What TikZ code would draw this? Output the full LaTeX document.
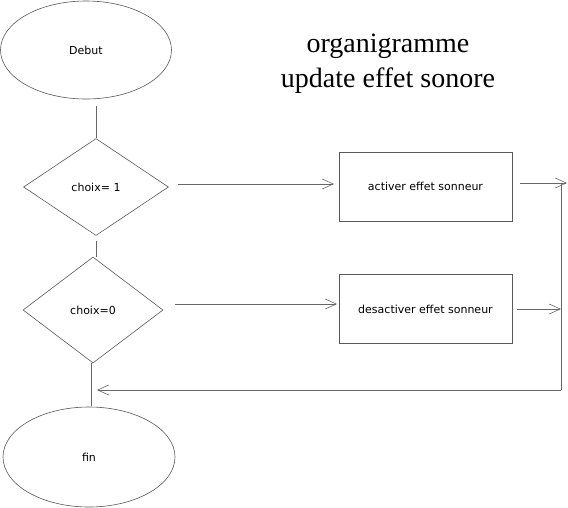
\documentclass[tikz,border=0pt]{standalone}
\usepackage{fontspec}
\setmainfont{DejaVu Sans}
\newfontfamily\titlefont{Liberation Serif}
\usetikzlibrary{shapes.geometric,arrows.meta}
\begin{document}
\begin{tikzpicture}[x=1pt,y=-1pt,
  every node/.style={font=\fontsize{11}{13}\selectfont, text=black},
  term/.style={ellipse,draw=black!65,line width=0.6pt,inner sep=0pt},
  decis/.style={diamond,draw=black!65,line width=0.6pt,inner sep=0pt},
  proc/.style={rectangle,draw=black!65,line width=0.6pt,inner sep=0pt,minimum width=173pt,minimum height=69pt},
  link/.style={draw=black!60,line width=0.6pt},
  arr/.style={link,-{Straight Barb[length=11pt,width=10pt,line width=0.6pt]}}]
\useasboundingbox (0,0) rectangle (568,507);
\fill[white] (0,0) rectangle (568,507);
\node[term,minimum width=171pt,minimum height=98pt] (debut) at (86,50) {Debut};
\node[decis,minimum width=145pt,minimum height=97pt] (d1) at (96,187) {choix= 1};
\node[decis,minimum width=140pt,minimum height=106pt] (d2) at (93,310) {choix=0};
\node[term,minimum width=172pt,minimum height=100pt] (fin) at (89,457) {fin};
\node[proc] (b1) at (425.5,186.5) {activer effet sonneur};
\node[proc] (b2) at (425.5,309) {desactiver effet sonneur};
\node[font=\titlefont\fontsize{28}{35}\selectfont,align=center] (title) at (388,64) {organigramme\\update effet sonore};
\coordinate (c1) at (96,106);
\coordinate (c2) at (96,241);
\coordinate (c3) at (91,363);
\coordinate (c4) at (91,406);
\coordinate (a1s) at (178,184);
\coordinate (a1e) at (334,184);
\coordinate (a2s) at (175,304);
\coordinate (a2e) at (337,304);
\coordinate (r1s) at (520,183);
\coordinate (r1e) at (567,183);
\coordinate (r2s) at (517,309);
\coordinate (r2e) at (561,309);
\coordinate (vt) at (561,183);
\coordinate (vb) at (561,390);
\coordinate (be) at (97,390);
\draw[link] (c1) -- (d1.north);
\draw[link] (c2) -- (96,257);
\draw[link] (c3) -- (c4);
\draw[arr] (a1s) -- (a1e);
\draw[arr] (a2s) -- (a2e);
\draw[arr] (r1s) -- (r1e);
\draw[arr] (r2s) -- (r2e);
\draw[link] (vt) -- (vb);
\draw[arr] (vb) -- (be);
\end{tikzpicture}
\end{document}
